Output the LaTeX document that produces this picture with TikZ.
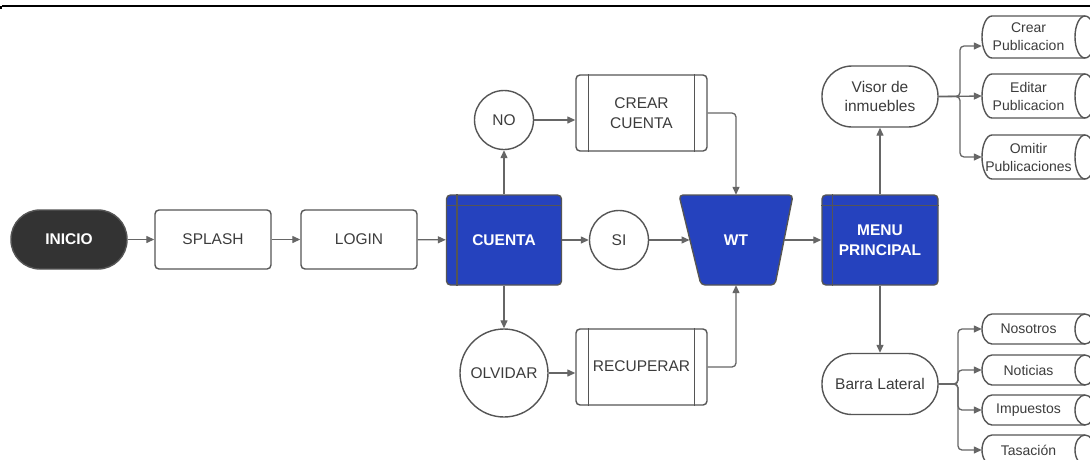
\documentclass[tikz,border=0pt]{standalone}
\usepackage{fontspec}
\setmainfont{Liberation Sans}
\usetikzlibrary{shapes.geometric,arrows.meta}
\definecolor{bluefill}{RGB}{37,66,190}
\definecolor{edgecol}{RGB}{85,85,85}
\definecolor{wirecol}{RGB}{102,102,102}
\definecolor{txtcol}{RGB}{60,60,60}
\definecolor{darkfill}{RGB}{51,51,51}
\newcommand{\mycyl}[4]{%
  \pgfmathsetmacro{\cymid}{-(#2+#3)/2}%
  \pgfmathsetmacro{\cyr}{(#3-#2)/2}%
  \draw[shapeline, fill=white] (992,-#2) -- (1085,-#2)
     arc[start angle=90,end angle=-90,x radius=10pt,y radius=\cyr pt]
     -- (992,-#3)
     arc[start angle=270,end angle=90,x radius=10pt,y radius=\cyr pt] -- cycle;
  \draw[shapeline] (1085,-#2) arc[start angle=90,end angle=270,x radius=10pt,y radius=\cyr pt];
  \node[cyltext, minimum height=#3pt-#2pt] (#1) at (1028.5,\cymid) {#4};
}
\begin{document}
\begin{tikzpicture}[x=1pt,y=1pt,
  shapeline/.style={draw=edgecol, line width=1.4pt},
  base/.style={shapeline, text=txtcol, inner sep=0pt, align=center,
     font=\fontsize{15.5}{19.5}\selectfont},
  box/.style={base, fill=white, rounded corners=4pt, minimum width=116pt, minimum height=59pt},
  term/.style={base, fill=darkfill, text=white, font=\fontsize{15.5}{19.5}\selectfont\bfseries,
     rounded corners=29pt, minimum width=116pt, minimum height=59pt},
  stad/.style={base, fill=white, rounded corners=30pt, minimum width=116pt, minimum height=61pt},
  bluebox/.style={base, fill=bluefill, text=white, font=\fontsize{15.5}{19.5}\selectfont\bfseries,
     rounded corners=4pt, minimum width=116pt, minimum height=90pt},
  circ/.style={base, fill=white, circle, minimum size=59pt},
  proc/.style={base, fill=white, rounded corners=4pt, minimum width=131pt, minimum height=76pt},
  wtlabel/.style={inner sep=0pt, text=white, font=\fontsize{15.5}{19.5}\selectfont\bfseries,
     minimum width=113pt, minimum height=90pt},
  cyltext/.style={inner sep=0pt, align=center, text=txtcol, minimum width=93pt,
     font=\fontsize{14}{18}\selectfont},
  wire/.style={draw=wirecol, line width=1.3pt},
  arr/.style={wire, -{Triangle[length=8pt,width=7pt]}, rounded corners=4pt}
]
\useasboundingbox (0,0) rectangle (1090,-459);
\clip (0,0) rectangle (1090,-459);
\fill[white] (0,0) rectangle (1090,-459);

% top rule
\draw[black, line width=1.3pt] (2,-6) -- (1090,-6);
\fill[black] (0,-6) rectangle (2,-8.5);

% main row
\node[term] (ini) at (69,-239.5) {INICIO};
\node[box] (spl) at (213,-239.5) {SPLASH};
\node[box] (log) at (359,-239.5) {LOGIN};
\node[bluebox, minimum width=115pt] (cta) at (504,-240) {\raisebox{-2pt}{CUENTA}};
\draw[shapeline] ([xshift=11pt]cta.north west) -- ([xshift=11pt]cta.south west);
\draw[shapeline] ([yshift=-11pt]cta.north west) -- ([yshift=-11pt]cta.north east);
\node[circ] (si) at (619,-240) {SI};
% WT trapezoid
\draw[shapeline, fill=bluefill, rounded corners=4pt]
  (679,-195) -- (793,-195) -- (775,-285) -- (701,-285) -- cycle;
\node[wtlabel] (wt) at (736,-240) {WT};
\coordinate (wtL) at (689.5,-240);
\coordinate (wtR) at (783.5,-240);
\node[bluebox] (menu) at (880,-240) {MENU\\PRINCIPAL};
\draw[shapeline] ([xshift=11pt]menu.north west) -- ([xshift=11pt]menu.south west);
\draw[shapeline] ([yshift=-11pt]menu.north west) -- ([yshift=-11pt]menu.north east);

% upper / lower branches
\node[circ] (no) at (504,-120) {NO};
\node[proc] (crear) at (641.5,-113) {CREAR\\CUENTA};
\draw[shapeline] ([xshift=13pt]crear.north west) -- ([xshift=13pt]crear.south west);
\draw[shapeline] ([xshift=-13pt]crear.north east) -- ([xshift=-13pt]crear.south east);
\node[circ, minimum size=88pt] (olv) at (504,-373) {OLVIDAR};
\node[proc] (rec) at (641.5,-367) {\raisebox{2pt}{RECUPERAR}};
\draw[shapeline] ([xshift=13pt]rec.north west) -- ([xshift=13pt]rec.south west);
\draw[shapeline] ([xshift=-13pt]rec.north east) -- ([xshift=-13pt]rec.south east);

% right side
\node[stad] (vis) at (880,-96.5) {Visor de\\inmuebles};
\node[stad] (bar) at (880,-384) {Barra Lateral};

\mycyl{cA}{16}{58}{Crear\\Publicacion}
\mycyl{cB}{74}{118}{Editar\\Publicacion}
\mycyl{cC}{135}{179}{Omitir\\Publicaciones}
\mycyl{dA}{314}{344}{Nosotros}
\mycyl{dB}{355}{385}{Noticias}
\mycyl{dC}{395}{425}{Impuestos}
\mycyl{dD}{435}{465}{Tasación}

% connectors
\draw[arr] (ini) -- (spl);
\draw[arr] (spl) -- (log);
\draw[arr] (log) -- (cta);
\draw[arr] (cta) -- (si);
\draw[arr] (si) -- (wtL);
\draw[arr] (wtR) -- (menu);
\draw[arr] (cta) -- (no);
\draw[arr] (cta) -- (olv);
\draw[arr] (no.east) -- (no.east -| crear.west);
\draw[arr] (crear.east) -| (wt.north);
\draw[arr] (olv.east) -- (olv.east -| rec.west);
\draw[arr] (rec.east) -| (wt.south);
\draw[arr] (menu) -- (vis);
\draw[arr] (menu) -- (bar);

\coordinate (bv) at (960,-96.5);
\draw[arr] (vis.east) -- (bv) |- ([yshift=-9pt]cA.west);
\draw[arr] (vis.east) -- (cB.west);
\draw[arr] (vis.east) -- (bv) |- (cC.west);

\coordinate (bb) at (958,-384);
\draw[arr] (bar.east) -- (bb) |- (dA.west);
\draw[arr] (bar.east) -- (bb) |- (dB.west);
\draw[arr] (bar.east) -- (bb) |- (dC.west);
\draw[arr] (bar.east) -- (bb) |- (dD.west);
\end{tikzpicture}
\end{document}
